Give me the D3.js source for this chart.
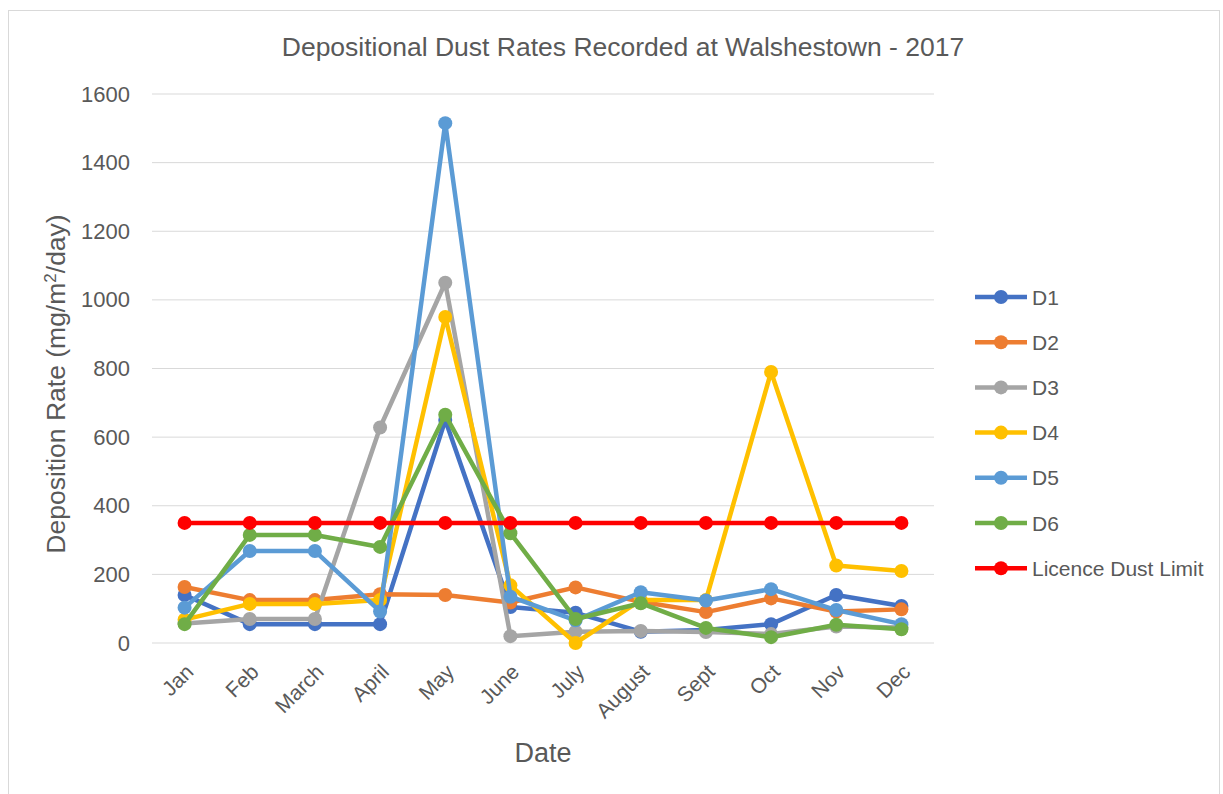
<!DOCTYPE html>
<html>
<head>
<meta charset="utf-8">
<script src="https://d3js.org/d3.v7.min.js"></script>
<style>
body { margin: 0; background: #fff; }
text { font-family: "Liberation Sans", Arial, sans-serif; fill: #595959; }
</style>
</head>
<body>
<svg width="1223" height="794"></svg>
<script>
var months = ["Jan", "Feb", "March", "April", "May", "June", "July", "August", "Sept", "Oct", "Nov", "Dec"];
var yTicks = [0, 200, 400, 600, 800, 1000, 1200, 1400, 1600];

var d1 = [140, 55, 55, 55, 650, 105, 88, 33, 38, 55, 140, 108];
var d2 = [163, 125, 125, 142, 140, 118, 162, 120, 90, 130, 92, 98];
var d3vals = [57, 70, 70, 628, 1050, 20, 33, 35, 32, 26, 48, 45];
var d4 = [68, 114, 114, 125, 950, 168, 0, 125, 125, 790, 226, 210];
var d5 = [103, 268, 268, 92, 1515, 135, 66, 148, 124, 157, 96, 55];
var d6 = [55, 315, 315, 280, 665, 320, 70, 116, 44, 17, 53, 40];
var limit = [350, 350, 350, 350, 350, 350, 350, 350, 350, 350, 350, 350];

var seriesNames = ["D1", "D2", "D3", "D4", "D5", "D6", "Licence Dust Limit"];
var seriesData = [d1, d2, d3vals, d4, d5, d6, limit];
var colors = ["#4472C4", "#ED7D31", "#A5A5A5", "#FFC000", "#5B9BD5", "#70AD47", "#FF0000"];

function drawChart() {
    var svg = d3.select("svg");

    // chart border
    svg.append("rect")
        .attr("x", 8.5).attr("y", 10.5)
        .attr("width", 1211).attr("height", 790)
        .attr("fill", "none").attr("stroke", "#d9d9d9");

    var plotLeft = 152, plotRight = 934, plotTop = 94, plotBottom = 643;

    var x = d3.scaleBand().domain(months).range([plotLeft, plotRight]);
    var y = d3.scaleLinear().domain([0, 1600]).range([plotBottom, plotTop]);

    // gridlines
    svg.append("g")
        .selectAll("line")
        .data(yTicks)
        .enter().append("line")
        .attr("x1", plotLeft).attr("x2", plotRight)
        .attr("y1", function(d) { return y(d); })
        .attr("y2", function(d) { return y(d); })
        .attr("stroke", "#d9d9d9").attr("stroke-width", 1);

    // y axis labels
    var yAxis = svg.append("g")
        .attr("transform", "translate(" + plotLeft + ",0)")
        .call(d3.axisLeft(y).tickValues(yTicks).tickSize(0).tickPadding(22).tickFormat(d3.format("d")));
    yAxis.select(".domain").remove();
    yAxis.selectAll("text")
        .style("font-size", "22px")
        .style("font-family", "Liberation Sans, Arial, sans-serif")
        .attr("fill", "#595959");

    // x axis labels
    var xAxis = svg.append("g")
        .attr("transform", "translate(0," + plotBottom + ")")
        .call(d3.axisBottom(x).tickSize(0).tickPadding(0));
    xAxis.select(".domain").remove();
    xAxis.selectAll("text")
        .style("font-size", "21px")
        .style("font-family", "Liberation Sans, Arial, sans-serif")
        .attr("fill", "#595959")
        .attr("text-anchor", "end")
        .attr("y", 0)
        .attr("dy", "0.35em")
        .attr("transform", "translate(5,25) rotate(-45)");

    // titles
    svg.append("text")
        .attr("x", 623).attr("y", 56)
        .attr("text-anchor", "middle")
        .style("font-size", "26.5px")
        .text("Depositional Dust Rates Recorded at Walshestown - 2017");

    svg.append("text")
        .attr("x", 543).attr("y", 762)
        .attr("text-anchor", "middle")
        .style("font-size", "27px")
        .text("Date");

    var yt = svg.append("text")
        .attr("transform", "translate(65,384) rotate(-90)")
        .attr("text-anchor", "middle")
        .style("font-size", "26.5px");
    yt.append("tspan").text("Deposition Rate (mg/m");
    yt.append("tspan").attr("baseline-shift", "super").style("font-size", "17px").text("2");
    yt.append("tspan").text("/day)");

    // lines and markers
    var line = d3.line()
        .x(function(d, i) { return x(months[i]) + x.bandwidth() / 2; })
        .y(function(d) { return y(d); });

    seriesData.forEach(function(vals, k) {
        var g = svg.append("g");
        g.append("path")
            .attr("d", line(vals))
            .attr("fill", "none")
            .attr("stroke", colors[k])
            .attr("stroke-width", 4.5)
            .attr("stroke-linejoin", "round");
        g.selectAll("circle")
            .data(vals)
            .enter().append("circle")
            .attr("cx", function(d, i) { return x(months[i]) + x.bandwidth() / 2; })
            .attr("cy", function(d) { return y(d); })
            .attr("r", 7)
            .attr("fill", colors[k]);
    });

    // legend
    var legend = svg.append("g");
    seriesNames.forEach(function(name, k) {
        var ly = 297 + k * 45.2;
        legend.append("line")
            .attr("x1", 975).attr("x2", 1027)
            .attr("y1", ly).attr("y2", ly)
            .attr("stroke", colors[k]).attr("stroke-width", 4.5);
        legend.append("circle")
            .attr("cx", 1001).attr("cy", ly).attr("r", 7)
            .attr("fill", colors[k]);
        legend.append("text")
            .attr("x", 1032).attr("y", ly + 7.5)
            .style("font-size", "21px")
            .text(name);
    });
}

drawChart();
</script>
</body>
</html>
